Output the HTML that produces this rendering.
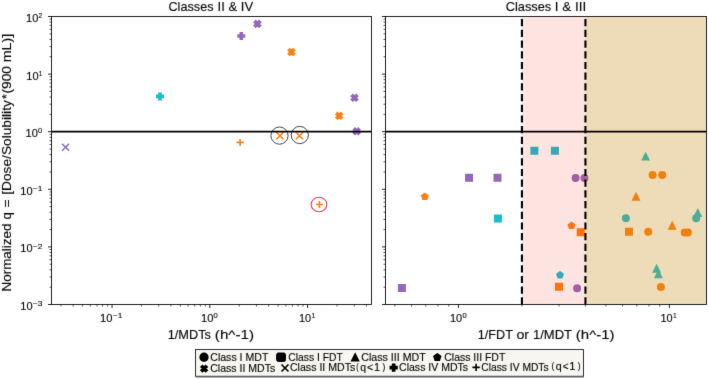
<!DOCTYPE html><html><head><meta charset="utf-8"><style>html,body{margin:0;padding:0;background:#fff;}svg{display:block;will-change:transform;}text{font-family:"Liberation Sans",sans-serif;stroke:#000;stroke-width:0.12px;}</style></head><body>
<svg width="708" height="379" viewBox="0 0 708 379">
<defs><filter id="bt" x="0" y="0" width="708" height="379" filterUnits="userSpaceOnUse" color-interpolation-filters="sRGB"><feConvolveMatrix order="3" kernelMatrix="0.0100 0.0800 0.0100 0.0800 0.6400 0.0800 0.0100 0.0800 0.0100" divisor="1" edgeMode="none"/></filter></defs>
<defs><filter id="bl" x="0" y="0" width="708" height="379" filterUnits="userSpaceOnUse" color-interpolation-filters="sRGB"><feConvolveMatrix order="3" kernelMatrix="0.0049 0.0602 0.0049 0.0602 0.7396 0.0602 0.0049 0.0602 0.0049" divisor="1" edgeMode="duplicate"/></filter></defs>
<g filter="url(#bl)">
<rect width="708" height="379" fill="#fff"/>
<defs><clipPath id="cl"><rect x="51.5" y="16.5" width="320.0" height="288.0"/></clipPath><clipPath id="cr"><rect x="385.5" y="16.5" width="321.0" height="288.0"/></clipPath></defs>
<g clip-path="url(#cl)">
<circle cx="279.5" cy="135.6" r="8.6" fill="none" stroke="#333" stroke-width="0.9"/>
<circle cx="299.8" cy="135.0" r="8.6" fill="none" stroke="#333" stroke-width="0.9"/>
<ellipse cx="319.0" cy="204.5" rx="7.8" ry="7.3" fill="none" stroke="#f0404c" stroke-width="1.1"/>
<path d="M62.05,143.70L69.05,150.70M62.05,150.70L69.05,143.70" stroke="#9467bd" stroke-width="1.6" fill="none"/>
<polygon points="158.90,93.10 161.10,93.10 161.10,95.30 163.30,95.30 163.30,97.50 161.10,97.50 161.10,99.70 158.90,99.70 158.90,97.50 156.70,97.50 156.70,95.30 158.90,95.30" fill="#17becf" stroke="#17becf" stroke-width="1.4" stroke-linejoin="miter"/>
<polygon points="240.20,32.70 242.40,32.70 242.40,34.90 244.60,34.90 244.60,37.10 242.40,37.10 242.40,39.30 240.20,39.30 240.20,37.10 238.00,37.10 238.00,34.90 240.20,34.90" fill="#9467bd" stroke="#9467bd" stroke-width="1.4" stroke-linejoin="miter"/>
<polygon points="255.75,20.60 257.40,22.25 259.05,20.60 260.70,22.25 259.05,23.90 260.70,25.55 259.05,27.20 257.40,25.55 255.75,27.20 254.10,25.55 255.75,23.90 254.10,22.25" fill="#9467bd" stroke="#9467bd" stroke-width="1.4" stroke-linejoin="miter"/>
<polygon points="289.85,48.70 291.50,50.35 293.15,48.70 294.80,50.35 293.15,52.00 294.80,53.65 293.15,55.30 291.50,53.65 289.85,55.30 288.20,53.65 289.85,52.00 288.20,50.35" fill="#ff7f0e" stroke="#ff7f0e" stroke-width="1.4" stroke-linejoin="miter"/>
<path d="M236.60,142.40L243.60,142.40M240.10,138.90L240.10,145.90" stroke="#ff7f0e" stroke-width="1.6" fill="none"/>
<path d="M276.40,132.20L283.40,139.20M276.40,139.20L283.40,132.20" stroke="#ff7f0e" stroke-width="1.6" fill="none"/>
<path d="M295.90,132.30L302.90,139.30M295.90,139.30L302.90,132.30" stroke="#ff7f0e" stroke-width="1.6" fill="none"/>
<path d="M315.90,204.50L322.90,204.50M319.40,201.00L319.40,208.00" stroke="#ff7f0e" stroke-width="1.6" fill="none"/>
<polygon points="337.55,112.50 339.20,114.15 340.85,112.50 342.50,114.15 340.85,115.80 342.50,117.45 340.85,119.10 339.20,117.45 337.55,119.10 335.90,117.45 337.55,115.80 335.90,114.15" fill="#ff7f0e" stroke="#ff7f0e" stroke-width="1.4" stroke-linejoin="miter"/>
<polygon points="352.85,94.50 354.50,96.15 356.15,94.50 357.80,96.15 356.15,97.80 357.80,99.45 356.15,101.10 354.50,99.45 352.85,101.10 351.20,99.45 352.85,97.80 351.20,96.15" fill="#9467bd" stroke="#9467bd" stroke-width="1.4" stroke-linejoin="miter"/>
<polygon points="354.95,128.00 356.60,129.65 358.25,128.00 359.90,129.65 358.25,131.30 359.90,132.95 358.25,134.60 356.60,132.95 354.95,134.60 353.30,132.95 354.95,131.30 353.30,129.65" fill="#9467bd" stroke="#9467bd" stroke-width="1.4" stroke-linejoin="miter"/>
<line x1="51.5" y1="131.6" x2="371.5" y2="131.6" stroke="#000" stroke-width="1.6"/>
</g>
<g clip-path="url(#cr)">
<polygon points="424.80,193.30 427.94,195.58 426.74,199.27 422.86,199.27 421.66,195.58" fill="#ff7f0e" stroke="#ff7f0e" stroke-width="1.4" stroke-linejoin="miter"/>
<polygon points="465.80,174.50 472.40,174.50 472.40,181.10 465.80,181.10" fill="#9467bd" stroke="#9467bd" stroke-width="1.4" stroke-linejoin="miter"/>
<polygon points="494.20,174.50 500.80,174.50 500.80,181.10 494.20,181.10" fill="#9467bd" stroke="#9467bd" stroke-width="1.4" stroke-linejoin="miter"/>
<polygon points="494.60,215.30 501.20,215.30 501.20,221.90 494.60,221.90" fill="#17becf" stroke="#17becf" stroke-width="1.4" stroke-linejoin="miter"/>
<polygon points="398.60,284.70 405.20,284.70 405.20,291.30 398.60,291.30" fill="#9467bd" stroke="#9467bd" stroke-width="1.4" stroke-linejoin="miter"/>
<polygon points="531.10,147.50 537.70,147.50 537.70,154.10 531.10,154.10" fill="#17becf" stroke="#17becf" stroke-width="1.4" stroke-linejoin="miter"/>
<polygon points="551.60,147.50 558.20,147.50 558.20,154.10 551.60,154.10" fill="#17becf" stroke="#17becf" stroke-width="1.4" stroke-linejoin="miter"/>
<circle cx="575.60" cy="178.00" r="3.30" fill="#9467bd" stroke="#9467bd" stroke-width="1.4"/>
<circle cx="584.50" cy="178.00" r="3.30" fill="#9467bd" stroke="#9467bd" stroke-width="1.4"/>
<polygon points="571.50,222.40 574.64,224.68 573.44,228.37 569.56,228.37 568.36,224.68" fill="#ff7f0e" stroke="#ff7f0e" stroke-width="1.4" stroke-linejoin="miter"/>
<polygon points="577.40,229.00 584.00,229.00 584.00,235.60 577.40,235.60" fill="#ff7f0e" stroke="#ff7f0e" stroke-width="1.4" stroke-linejoin="miter"/>
<polygon points="560.00,271.80 563.14,274.08 561.94,277.77 558.06,277.77 556.86,274.08" fill="#17becf" stroke="#17becf" stroke-width="1.4" stroke-linejoin="miter"/>
<polygon points="555.70,283.50 562.30,283.50 562.30,290.10 555.70,290.10" fill="#ff7f0e" stroke="#ff7f0e" stroke-width="1.4" stroke-linejoin="miter"/>
<circle cx="577.10" cy="288.20" r="3.30" fill="#9467bd" stroke="#9467bd" stroke-width="1.4"/>
<polygon points="645.60,153.20 642.30,159.80 648.90,159.80" fill="#17becf" stroke="#17becf" stroke-width="1.4" stroke-linejoin="miter"/>
<circle cx="652.60" cy="175.10" r="3.30" fill="#ff7f0e" stroke="#ff7f0e" stroke-width="1.4"/>
<circle cx="662.20" cy="175.10" r="3.30" fill="#ff7f0e" stroke="#ff7f0e" stroke-width="1.4"/>
<polygon points="636.00,193.40 632.70,200.00 639.30,200.00" fill="#ff7f0e" stroke="#ff7f0e" stroke-width="1.4" stroke-linejoin="miter"/>
<circle cx="625.90" cy="218.30" r="3.30" fill="#17becf" stroke="#17becf" stroke-width="1.4"/>
<polygon points="625.70,228.50 632.30,228.50 632.30,235.10 625.70,235.10" fill="#ff7f0e" stroke="#ff7f0e" stroke-width="1.4" stroke-linejoin="miter"/>
<circle cx="648.20" cy="231.80" r="3.30" fill="#ff7f0e" stroke="#ff7f0e" stroke-width="1.4"/>
<polygon points="672.20,222.40 668.90,229.00 675.50,229.00" fill="#ff7f0e" stroke="#ff7f0e" stroke-width="1.4" stroke-linejoin="miter"/>
<circle cx="684.70" cy="232.40" r="3.30" fill="#ff7f0e" stroke="#ff7f0e" stroke-width="1.4"/>
<circle cx="687.90" cy="232.40" r="3.30" fill="#ff7f0e" stroke="#ff7f0e" stroke-width="1.4"/>
<polygon points="697.80,209.60 694.50,216.20 701.10,216.20" fill="#17becf" stroke="#17becf" stroke-width="1.4" stroke-linejoin="miter"/>
<circle cx="696.20" cy="218.30" r="3.30" fill="#17becf" stroke="#17becf" stroke-width="1.4"/>
<polygon points="656.60,265.40 653.30,272.00 659.90,272.00" fill="#17becf" stroke="#17becf" stroke-width="1.4" stroke-linejoin="miter"/>
<polygon points="658.40,270.90 655.10,277.50 661.70,277.50" fill="#17becf" stroke="#17becf" stroke-width="1.4" stroke-linejoin="miter"/>
<circle cx="660.90" cy="287.00" r="3.30" fill="#ff7f0e" stroke="#ff7f0e" stroke-width="1.4"/>
<rect x="521.92" y="16.5" width="63.52" height="288.0" fill="#fa2300" fill-opacity="0.12"/>
<rect x="585.43" y="16.5" width="121.07" height="288.0" fill="#c88914" fill-opacity="0.3"/>
<line x1="521.92" y1="304.5" x2="521.92" y2="16.5" stroke="#000" stroke-width="2.1" stroke-dasharray="7.2 3.5"/>
<line x1="585.43" y1="304.5" x2="585.43" y2="16.5" stroke="#000" stroke-width="2.1" stroke-dasharray="7.2 3.5"/>
<line x1="385.5" y1="131.6" x2="706.5" y2="131.6" stroke="#000" stroke-width="1.6"/>
</g>
<rect x="51.5" y="16.5" width="320.0" height="288.0" fill="none" stroke="#000" stroke-width="0.85"/>
<rect x="385.5" y="16.5" width="321.0" height="288.0" fill="none" stroke="#000" stroke-width="0.85"/>
<g><line x1="51.5" y1="304.50" x2="48.0" y2="304.50" stroke="#000" stroke-width="0.85"/><line x1="385.5" y1="304.50" x2="382.0" y2="304.50" stroke="#000" stroke-width="0.85"/><line x1="51.5" y1="287.16" x2="49.5" y2="287.16" stroke="#000" stroke-width="0.65"/><line x1="385.5" y1="287.16" x2="383.5" y2="287.16" stroke="#000" stroke-width="0.65"/><line x1="51.5" y1="277.02" x2="49.5" y2="277.02" stroke="#000" stroke-width="0.65"/><line x1="385.5" y1="277.02" x2="383.5" y2="277.02" stroke="#000" stroke-width="0.65"/><line x1="51.5" y1="269.82" x2="49.5" y2="269.82" stroke="#000" stroke-width="0.65"/><line x1="385.5" y1="269.82" x2="383.5" y2="269.82" stroke="#000" stroke-width="0.65"/><line x1="51.5" y1="264.24" x2="49.5" y2="264.24" stroke="#000" stroke-width="0.65"/><line x1="385.5" y1="264.24" x2="383.5" y2="264.24" stroke="#000" stroke-width="0.65"/><line x1="51.5" y1="259.68" x2="49.5" y2="259.68" stroke="#000" stroke-width="0.65"/><line x1="385.5" y1="259.68" x2="383.5" y2="259.68" stroke="#000" stroke-width="0.65"/><line x1="51.5" y1="255.82" x2="49.5" y2="255.82" stroke="#000" stroke-width="0.65"/><line x1="385.5" y1="255.82" x2="383.5" y2="255.82" stroke="#000" stroke-width="0.65"/><line x1="51.5" y1="252.48" x2="49.5" y2="252.48" stroke="#000" stroke-width="0.65"/><line x1="385.5" y1="252.48" x2="383.5" y2="252.48" stroke="#000" stroke-width="0.65"/><line x1="51.5" y1="249.54" x2="49.5" y2="249.54" stroke="#000" stroke-width="0.65"/><line x1="385.5" y1="249.54" x2="383.5" y2="249.54" stroke="#000" stroke-width="0.65"/><line x1="51.5" y1="246.90" x2="48.0" y2="246.90" stroke="#000" stroke-width="0.85"/><line x1="385.5" y1="246.90" x2="382.0" y2="246.90" stroke="#000" stroke-width="0.85"/><line x1="51.5" y1="229.56" x2="49.5" y2="229.56" stroke="#000" stroke-width="0.65"/><line x1="385.5" y1="229.56" x2="383.5" y2="229.56" stroke="#000" stroke-width="0.65"/><line x1="51.5" y1="219.42" x2="49.5" y2="219.42" stroke="#000" stroke-width="0.65"/><line x1="385.5" y1="219.42" x2="383.5" y2="219.42" stroke="#000" stroke-width="0.65"/><line x1="51.5" y1="212.22" x2="49.5" y2="212.22" stroke="#000" stroke-width="0.65"/><line x1="385.5" y1="212.22" x2="383.5" y2="212.22" stroke="#000" stroke-width="0.65"/><line x1="51.5" y1="206.64" x2="49.5" y2="206.64" stroke="#000" stroke-width="0.65"/><line x1="385.5" y1="206.64" x2="383.5" y2="206.64" stroke="#000" stroke-width="0.65"/><line x1="51.5" y1="202.08" x2="49.5" y2="202.08" stroke="#000" stroke-width="0.65"/><line x1="385.5" y1="202.08" x2="383.5" y2="202.08" stroke="#000" stroke-width="0.65"/><line x1="51.5" y1="198.22" x2="49.5" y2="198.22" stroke="#000" stroke-width="0.65"/><line x1="385.5" y1="198.22" x2="383.5" y2="198.22" stroke="#000" stroke-width="0.65"/><line x1="51.5" y1="194.88" x2="49.5" y2="194.88" stroke="#000" stroke-width="0.65"/><line x1="385.5" y1="194.88" x2="383.5" y2="194.88" stroke="#000" stroke-width="0.65"/><line x1="51.5" y1="191.94" x2="49.5" y2="191.94" stroke="#000" stroke-width="0.65"/><line x1="385.5" y1="191.94" x2="383.5" y2="191.94" stroke="#000" stroke-width="0.65"/><line x1="51.5" y1="189.30" x2="48.0" y2="189.30" stroke="#000" stroke-width="0.85"/><line x1="385.5" y1="189.30" x2="382.0" y2="189.30" stroke="#000" stroke-width="0.85"/><line x1="51.5" y1="171.96" x2="49.5" y2="171.96" stroke="#000" stroke-width="0.65"/><line x1="385.5" y1="171.96" x2="383.5" y2="171.96" stroke="#000" stroke-width="0.65"/><line x1="51.5" y1="161.82" x2="49.5" y2="161.82" stroke="#000" stroke-width="0.65"/><line x1="385.5" y1="161.82" x2="383.5" y2="161.82" stroke="#000" stroke-width="0.65"/><line x1="51.5" y1="154.62" x2="49.5" y2="154.62" stroke="#000" stroke-width="0.65"/><line x1="385.5" y1="154.62" x2="383.5" y2="154.62" stroke="#000" stroke-width="0.65"/><line x1="51.5" y1="149.04" x2="49.5" y2="149.04" stroke="#000" stroke-width="0.65"/><line x1="385.5" y1="149.04" x2="383.5" y2="149.04" stroke="#000" stroke-width="0.65"/><line x1="51.5" y1="144.48" x2="49.5" y2="144.48" stroke="#000" stroke-width="0.65"/><line x1="385.5" y1="144.48" x2="383.5" y2="144.48" stroke="#000" stroke-width="0.65"/><line x1="51.5" y1="140.62" x2="49.5" y2="140.62" stroke="#000" stroke-width="0.65"/><line x1="385.5" y1="140.62" x2="383.5" y2="140.62" stroke="#000" stroke-width="0.65"/><line x1="51.5" y1="137.28" x2="49.5" y2="137.28" stroke="#000" stroke-width="0.65"/><line x1="385.5" y1="137.28" x2="383.5" y2="137.28" stroke="#000" stroke-width="0.65"/><line x1="51.5" y1="134.34" x2="49.5" y2="134.34" stroke="#000" stroke-width="0.65"/><line x1="385.5" y1="134.34" x2="383.5" y2="134.34" stroke="#000" stroke-width="0.65"/><line x1="51.5" y1="131.70" x2="48.0" y2="131.70" stroke="#000" stroke-width="0.85"/><line x1="385.5" y1="131.70" x2="382.0" y2="131.70" stroke="#000" stroke-width="0.85"/><line x1="51.5" y1="114.36" x2="49.5" y2="114.36" stroke="#000" stroke-width="0.65"/><line x1="385.5" y1="114.36" x2="383.5" y2="114.36" stroke="#000" stroke-width="0.65"/><line x1="51.5" y1="104.22" x2="49.5" y2="104.22" stroke="#000" stroke-width="0.65"/><line x1="385.5" y1="104.22" x2="383.5" y2="104.22" stroke="#000" stroke-width="0.65"/><line x1="51.5" y1="97.02" x2="49.5" y2="97.02" stroke="#000" stroke-width="0.65"/><line x1="385.5" y1="97.02" x2="383.5" y2="97.02" stroke="#000" stroke-width="0.65"/><line x1="51.5" y1="91.44" x2="49.5" y2="91.44" stroke="#000" stroke-width="0.65"/><line x1="385.5" y1="91.44" x2="383.5" y2="91.44" stroke="#000" stroke-width="0.65"/><line x1="51.5" y1="86.88" x2="49.5" y2="86.88" stroke="#000" stroke-width="0.65"/><line x1="385.5" y1="86.88" x2="383.5" y2="86.88" stroke="#000" stroke-width="0.65"/><line x1="51.5" y1="83.02" x2="49.5" y2="83.02" stroke="#000" stroke-width="0.65"/><line x1="385.5" y1="83.02" x2="383.5" y2="83.02" stroke="#000" stroke-width="0.65"/><line x1="51.5" y1="79.68" x2="49.5" y2="79.68" stroke="#000" stroke-width="0.65"/><line x1="385.5" y1="79.68" x2="383.5" y2="79.68" stroke="#000" stroke-width="0.65"/><line x1="51.5" y1="76.74" x2="49.5" y2="76.74" stroke="#000" stroke-width="0.65"/><line x1="385.5" y1="76.74" x2="383.5" y2="76.74" stroke="#000" stroke-width="0.65"/><line x1="51.5" y1="74.10" x2="48.0" y2="74.10" stroke="#000" stroke-width="0.85"/><line x1="385.5" y1="74.10" x2="382.0" y2="74.10" stroke="#000" stroke-width="0.85"/><line x1="51.5" y1="56.76" x2="49.5" y2="56.76" stroke="#000" stroke-width="0.65"/><line x1="385.5" y1="56.76" x2="383.5" y2="56.76" stroke="#000" stroke-width="0.65"/><line x1="51.5" y1="46.62" x2="49.5" y2="46.62" stroke="#000" stroke-width="0.65"/><line x1="385.5" y1="46.62" x2="383.5" y2="46.62" stroke="#000" stroke-width="0.65"/><line x1="51.5" y1="39.42" x2="49.5" y2="39.42" stroke="#000" stroke-width="0.65"/><line x1="385.5" y1="39.42" x2="383.5" y2="39.42" stroke="#000" stroke-width="0.65"/><line x1="51.5" y1="33.84" x2="49.5" y2="33.84" stroke="#000" stroke-width="0.65"/><line x1="385.5" y1="33.84" x2="383.5" y2="33.84" stroke="#000" stroke-width="0.65"/><line x1="51.5" y1="29.28" x2="49.5" y2="29.28" stroke="#000" stroke-width="0.65"/><line x1="385.5" y1="29.28" x2="383.5" y2="29.28" stroke="#000" stroke-width="0.65"/><line x1="51.5" y1="25.42" x2="49.5" y2="25.42" stroke="#000" stroke-width="0.65"/><line x1="385.5" y1="25.42" x2="383.5" y2="25.42" stroke="#000" stroke-width="0.65"/><line x1="51.5" y1="22.08" x2="49.5" y2="22.08" stroke="#000" stroke-width="0.65"/><line x1="385.5" y1="22.08" x2="383.5" y2="22.08" stroke="#000" stroke-width="0.65"/><line x1="51.5" y1="19.14" x2="49.5" y2="19.14" stroke="#000" stroke-width="0.65"/><line x1="385.5" y1="19.14" x2="383.5" y2="19.14" stroke="#000" stroke-width="0.65"/><line x1="51.5" y1="16.50" x2="48.0" y2="16.50" stroke="#000" stroke-width="0.85"/><line x1="385.5" y1="16.50" x2="382.0" y2="16.50" stroke="#000" stroke-width="0.85"/><line x1="60.94" y1="304.5" x2="60.94" y2="306.5" stroke="#000" stroke-width="0.65"/><line x1="73.15" y1="304.5" x2="73.15" y2="306.5" stroke="#000" stroke-width="0.65"/><line x1="82.62" y1="304.5" x2="82.62" y2="306.5" stroke="#000" stroke-width="0.65"/><line x1="90.36" y1="304.5" x2="90.36" y2="306.5" stroke="#000" stroke-width="0.65"/><line x1="96.91" y1="304.5" x2="96.91" y2="306.5" stroke="#000" stroke-width="0.65"/><line x1="102.58" y1="304.5" x2="102.58" y2="306.5" stroke="#000" stroke-width="0.65"/><line x1="107.58" y1="304.5" x2="107.58" y2="306.5" stroke="#000" stroke-width="0.65"/><line x1="112.05" y1="304.5" x2="112.05" y2="308.0" stroke="#000" stroke-width="0.85"/><line x1="141.48" y1="304.5" x2="141.48" y2="306.5" stroke="#000" stroke-width="0.65"/><line x1="158.69" y1="304.5" x2="158.69" y2="306.5" stroke="#000" stroke-width="0.65"/><line x1="170.90" y1="304.5" x2="170.90" y2="306.5" stroke="#000" stroke-width="0.65"/><line x1="180.37" y1="304.5" x2="180.37" y2="306.5" stroke="#000" stroke-width="0.65"/><line x1="394.88" y1="304.5" x2="394.88" y2="306.5" stroke="#000" stroke-width="0.65"/><line x1="188.11" y1="304.5" x2="188.11" y2="306.5" stroke="#000" stroke-width="0.65"/><line x1="411.59" y1="304.5" x2="411.59" y2="306.5" stroke="#000" stroke-width="0.65"/><line x1="194.66" y1="304.5" x2="194.66" y2="306.5" stroke="#000" stroke-width="0.65"/><line x1="425.72" y1="304.5" x2="425.72" y2="306.5" stroke="#000" stroke-width="0.65"/><line x1="200.33" y1="304.5" x2="200.33" y2="306.5" stroke="#000" stroke-width="0.65"/><line x1="437.95" y1="304.5" x2="437.95" y2="306.5" stroke="#000" stroke-width="0.65"/><line x1="205.33" y1="304.5" x2="205.33" y2="306.5" stroke="#000" stroke-width="0.65"/><line x1="448.75" y1="304.5" x2="448.75" y2="306.5" stroke="#000" stroke-width="0.65"/><line x1="209.80" y1="304.5" x2="209.80" y2="308.0" stroke="#000" stroke-width="0.85"/><line x1="458.40" y1="304.5" x2="458.40" y2="308.0" stroke="#000" stroke-width="0.85"/><line x1="239.23" y1="304.5" x2="239.23" y2="306.5" stroke="#000" stroke-width="0.65"/><line x1="521.92" y1="304.5" x2="521.92" y2="306.5" stroke="#000" stroke-width="0.65"/><line x1="256.44" y1="304.5" x2="256.44" y2="306.5" stroke="#000" stroke-width="0.65"/><line x1="559.07" y1="304.5" x2="559.07" y2="306.5" stroke="#000" stroke-width="0.65"/><line x1="268.65" y1="304.5" x2="268.65" y2="306.5" stroke="#000" stroke-width="0.65"/><line x1="585.43" y1="304.5" x2="585.43" y2="306.5" stroke="#000" stroke-width="0.65"/><line x1="278.12" y1="304.5" x2="278.12" y2="306.5" stroke="#000" stroke-width="0.65"/><line x1="605.88" y1="304.5" x2="605.88" y2="306.5" stroke="#000" stroke-width="0.65"/><line x1="285.86" y1="304.5" x2="285.86" y2="306.5" stroke="#000" stroke-width="0.65"/><line x1="622.59" y1="304.5" x2="622.59" y2="306.5" stroke="#000" stroke-width="0.65"/><line x1="292.41" y1="304.5" x2="292.41" y2="306.5" stroke="#000" stroke-width="0.65"/><line x1="636.72" y1="304.5" x2="636.72" y2="306.5" stroke="#000" stroke-width="0.65"/><line x1="298.08" y1="304.5" x2="298.08" y2="306.5" stroke="#000" stroke-width="0.65"/><line x1="648.95" y1="304.5" x2="648.95" y2="306.5" stroke="#000" stroke-width="0.65"/><line x1="303.08" y1="304.5" x2="303.08" y2="306.5" stroke="#000" stroke-width="0.65"/><line x1="659.75" y1="304.5" x2="659.75" y2="306.5" stroke="#000" stroke-width="0.65"/><line x1="307.55" y1="304.5" x2="307.55" y2="308.0" stroke="#000" stroke-width="0.85"/><line x1="669.40" y1="304.5" x2="669.40" y2="308.0" stroke="#000" stroke-width="0.85"/><line x1="336.98" y1="304.5" x2="336.98" y2="306.5" stroke="#000" stroke-width="0.65"/><line x1="354.19" y1="304.5" x2="354.19" y2="306.5" stroke="#000" stroke-width="0.65"/><line x1="366.40" y1="304.5" x2="366.40" y2="306.5" stroke="#000" stroke-width="0.65"/></g>
<rect x="195.5" y="349.5" width="388" height="26.8" fill="#f8f6f1" stroke="#333" stroke-width="1"/>
<line x1="196" y1="377.0" x2="584" y2="377.0" stroke="#666" stroke-width="1"/>
<circle cx="204.00" cy="357.20" r="3.95" fill="#000" stroke="#000" stroke-width="1.4"/>
<rect x="276.65" y="353.00" width="8.8" height="8.4" rx="1.6" fill="#000" stroke="#000" stroke-width="1"/>
<polygon points="355.15,353.70 351.65,360.70 358.65,360.70" fill="#000" stroke="#000" stroke-width="1.4" stroke-linejoin="miter"/>
<polygon points="437.30,353.80 440.72,356.29 439.42,360.31 435.18,360.31 433.88,356.29" fill="#000" stroke="#000" stroke-width="1.4" stroke-linejoin="miter"/>
<polygon points="202.50,365.40 204.10,367.00 205.70,365.40 207.30,367.00 205.70,368.60 207.30,370.20 205.70,371.80 204.10,370.20 202.50,371.80 200.90,370.20 202.50,368.60 200.90,367.00" fill="#000" stroke="#000" stroke-width="1.4" stroke-linejoin="miter"/>
<path d="M281.50,364.50L288.50,371.50M281.50,371.50L288.50,364.50" stroke="#000" stroke-width="1.6" fill="none"/>
<polygon points="392.52,364.30 394.78,364.30 394.78,366.57 397.05,366.57 397.05,368.83 394.78,368.83 394.78,371.10 392.52,371.10 392.52,368.83 390.25,368.83 390.25,366.57 392.52,366.57" fill="#000" stroke="#000" stroke-width="1.4" stroke-linejoin="miter"/>
<path d="M472.40,367.40L479.80,367.40M476.10,363.70L476.10,371.10" stroke="#000" stroke-width="1.6" fill="none"/>
</g>
<g class="t" filter="url(#bt)"><text x="99.96" y="322.00" font-size="10.8" textLength="12.49" lengthAdjust="spacingAndGlyphs" fill="#000" >10</text><text x="112.78" y="318.30" font-size="7.6" textLength="9.62" lengthAdjust="spacingAndGlyphs" fill="#000" >−1</text><text x="201.07" y="322.00" font-size="10.8" textLength="12.38" lengthAdjust="spacingAndGlyphs" fill="#000" >10</text><text x="213.60" y="318.30" font-size="7.6" textLength="4.19" lengthAdjust="spacingAndGlyphs" fill="#000" >0</text><text x="298.98" y="322.00" font-size="10.8" textLength="12.15" lengthAdjust="spacingAndGlyphs" fill="#000" >10</text><text x="311.60" y="318.30" font-size="7.6" textLength="3.73" lengthAdjust="spacingAndGlyphs" fill="#000" >1</text><text x="449.97" y="322.00" font-size="10.8" textLength="12.27" lengthAdjust="spacingAndGlyphs" fill="#000" >10</text><text x="462.40" y="318.30" font-size="7.6" textLength="4.19" lengthAdjust="spacingAndGlyphs" fill="#000" >0</text><text x="660.48" y="322.00" font-size="10.8" textLength="12.15" lengthAdjust="spacingAndGlyphs" fill="#000" >10</text><text x="673.10" y="318.30" font-size="7.6" textLength="3.73" lengthAdjust="spacingAndGlyphs" fill="#000" >1</text><text x="20.37" y="309.90" font-size="10.8" textLength="12.27" lengthAdjust="spacingAndGlyphs" fill="#000" >10</text><text x="32.78" y="306.20" font-size="7.6" textLength="9.58" lengthAdjust="spacingAndGlyphs" fill="#000" >−3</text><text x="20.37" y="252.30" font-size="10.8" textLength="12.27" lengthAdjust="spacingAndGlyphs" fill="#000" >10</text><text x="32.78" y="248.60" font-size="7.6" textLength="9.65" lengthAdjust="spacingAndGlyphs" fill="#000" >−2</text><text x="20.37" y="194.70" font-size="10.8" textLength="12.27" lengthAdjust="spacingAndGlyphs" fill="#000" >10</text><text x="32.78" y="191.00" font-size="7.6" textLength="9.62" lengthAdjust="spacingAndGlyphs" fill="#000" >−1</text><text x="25.57" y="137.10" font-size="10.8" textLength="12.27" lengthAdjust="spacingAndGlyphs" fill="#000" >10</text><text x="38.10" y="133.40" font-size="7.6" textLength="4.19" lengthAdjust="spacingAndGlyphs" fill="#000" >0</text><text x="26.37" y="79.50" font-size="10.8" textLength="12.27" lengthAdjust="spacingAndGlyphs" fill="#000" >10</text><text x="38.71" y="75.80" font-size="7.6" textLength="3.60" lengthAdjust="spacingAndGlyphs" fill="#000" >1</text><text x="26.07" y="21.90" font-size="10.8" textLength="12.27" lengthAdjust="spacingAndGlyphs" fill="#000" >10</text><text x="38.56" y="18.20" font-size="7.6" textLength="3.79" lengthAdjust="spacingAndGlyphs" fill="#000" >2</text><text x="168.47" y="10.50" font-size="13.0" textLength="45.07" lengthAdjust="spacingAndGlyphs" fill="#000" >Classes</text><text x="217.59" y="10.50" font-size="13.0" textLength="35.55" lengthAdjust="spacingAndGlyphs" fill="#000" >II &amp; IV</text><text x="505.76" y="10.50" font-size="13.0" textLength="45.48" lengthAdjust="spacingAndGlyphs" fill="#000" >Classes</text><text x="554.85" y="10.50" font-size="13.0" textLength="31.48" lengthAdjust="spacingAndGlyphs" fill="#000" >I &amp; III</text><text x="167.74" y="339.10" font-size="13.0" textLength="43.19" lengthAdjust="spacingAndGlyphs" fill="#000" >1/MDTs</text><text x="214.85" y="339.10" font-size="13.0" textLength="39.21" lengthAdjust="spacingAndGlyphs" fill="#000" >(h^-1)</text><text x="477.75" y="339.10" font-size="13.0" textLength="35.14" lengthAdjust="spacingAndGlyphs" fill="#000" >1/FDT</text><text x="516.40" y="339.10" font-size="13.0" textLength="12.64" lengthAdjust="spacingAndGlyphs" fill="#000" >or</text><text x="532.92" y="339.10" font-size="13.0" textLength="39.17" lengthAdjust="spacingAndGlyphs" fill="#000" >1/MDT</text><text x="575.87" y="339.10" font-size="13.0" textLength="38.58" lengthAdjust="spacingAndGlyphs" fill="#000" >(h^-1)</text><text transform="translate(11.40,291.51) rotate(-90)" x="0" y="0" font-size="12.8" textLength="67.98" lengthAdjust="spacingAndGlyphs" fill="#000">Normalized</text><text transform="translate(11.40,219.57) rotate(-90)" x="0" y="0" font-size="12.8" textLength="7.42" lengthAdjust="spacingAndGlyphs" fill="#000">q</text><text transform="translate(11.40,207.39) rotate(-90)" x="0" y="0" font-size="12.8" textLength="8.07" lengthAdjust="spacingAndGlyphs" fill="#000">=</text><text transform="translate(11.40,194.80) rotate(-90)" x="0" y="0" font-size="12.8" textLength="94.63" lengthAdjust="spacingAndGlyphs" fill="#000">[Dose/Solubility</text><text transform="translate(11.40,99.23) rotate(-90)" x="0" y="0" font-size="12.8" textLength="5.15" lengthAdjust="spacingAndGlyphs" fill="#000">*</text><text transform="translate(11.40,93.56) rotate(-90)" x="0" y="0" font-size="12.8" textLength="27.60" lengthAdjust="spacingAndGlyphs" fill="#000">(900</text><text transform="translate(11.40,62.26) rotate(-90)" x="0" y="0" font-size="12.8" textLength="28.46" lengthAdjust="spacingAndGlyphs" fill="#000">mL)]</text><text x="210.27" y="361.00" font-size="10.0" textLength="58.07" lengthAdjust="spacingAndGlyphs" fill="#000" >Class I MDT</text><text x="288.28" y="361.00" font-size="10.0" textLength="54.45" lengthAdjust="spacingAndGlyphs" fill="#000" >Class I FDT</text><text x="361.27" y="361.00" font-size="10.0" textLength="64.48" lengthAdjust="spacingAndGlyphs" fill="#000" >Class III MDT</text><text x="444.28" y="361.00" font-size="10.0" textLength="61.07" lengthAdjust="spacingAndGlyphs" fill="#000" >Class III FDT</text><text x="210.27" y="371.70" font-size="10.0" textLength="64.89" lengthAdjust="spacingAndGlyphs" fill="#000" >Class II MDTs</text><text x="289.97" y="371.40" font-size="10.0" textLength="65.30" lengthAdjust="spacingAndGlyphs" fill="#000" >Class II MDTs</text><text x="356.35" y="369.61" font-size="9.12" textLength="2.41" lengthAdjust="spacingAndGlyphs" fill="#000" >(</text><text x="360.16" y="370.90" font-size="10.0" textLength="5.81" lengthAdjust="spacingAndGlyphs" fill="#000" >q</text><text x="367.07" y="370.90" font-size="10.0" textLength="6.14" lengthAdjust="spacingAndGlyphs" fill="#000" >&lt;</text><text x="374.08" y="370.90" font-size="10.0" textLength="6.04" lengthAdjust="spacingAndGlyphs" fill="#000" >1</text><text x="382.44" y="369.61" font-size="9.12" textLength="2.79" lengthAdjust="spacingAndGlyphs" fill="#000" >)</text><text x="399.07" y="370.60" font-size="10.0" textLength="69.08" lengthAdjust="spacingAndGlyphs" fill="#000" >Class IV MDTs</text><text x="481.29" y="370.60" font-size="10.0" textLength="67.36" lengthAdjust="spacingAndGlyphs" fill="#000" >Class IV MDTs</text><text x="551.58" y="368.81" font-size="9.12" textLength="2.79" lengthAdjust="spacingAndGlyphs" fill="#000" >(</text><text x="555.75" y="370.10" font-size="10.0" textLength="5.93" lengthAdjust="spacingAndGlyphs" fill="#000" >q</text><text x="562.71" y="370.10" font-size="10.0" textLength="5.78" lengthAdjust="spacingAndGlyphs" fill="#000" >&lt;</text><text x="569.37" y="370.10" font-size="10.0" textLength="6.17" lengthAdjust="spacingAndGlyphs" fill="#000" >1</text><text x="577.74" y="368.81" font-size="9.12" textLength="2.79" lengthAdjust="spacingAndGlyphs" fill="#000" >)</text></g>
</svg></body></html>
